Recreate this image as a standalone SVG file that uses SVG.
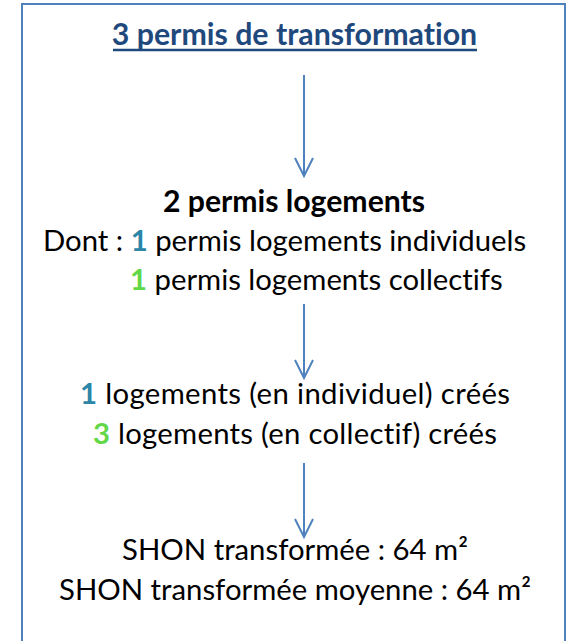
<svg xmlns="http://www.w3.org/2000/svg" width="569" height="641" viewBox="0 0 569 641">
<style>
text{font-variant-ligatures:none;font-feature-settings:"liga" 0}
.t{font-family:Lato,"Liberation Sans",sans-serif;font-size:29.3px;fill:#000}
.b{font-weight:bold;font-size:30.2px}
.title{font-family:Lato,"Liberation Sans",sans-serif;font-size:30.3px;font-weight:bold;fill:#1f497d}
.blue{fill:#2b86a8;font-weight:bold}
.green{fill:#62d848;font-weight:bold}
.arrow{stroke:#4f81bd;stroke-width:2;fill:none}
</style>
<rect x="22" y="4" width="543" height="660" fill="#fff" stroke="#4f81bd" stroke-width="2"/>
<g id="n-title">
<text class="title" x="294.5" y="45" text-anchor="middle">3 permis de transformation</text>
<line x1="113" y1="50" x2="477" y2="50" stroke="#1f497d" stroke-width="2.5"/>
</g>
<g id="n-permis">
<text class="t b" x="294" y="212" text-anchor="middle">2 permis logements</text>
<text class="t" x="43" y="251">Dont : <tspan class="blue">1</tspan> permis logements individuels</text>
<text class="t" x="130" y="290"><tspan class="green">1</tspan> permis logements collectifs</text>
</g>
<g id="n-logements">
<text class="t" x="80" y="404" textLength="430" lengthAdjust="spacing"><tspan class="blue">1</tspan> logements (en individuel) créés</text>
<text class="t" x="93" y="444" textLength="404" lengthAdjust="spacing"><tspan class="green">3</tspan> logements (en collectif) créés</text>
</g>
<g id="n-shon">
<text class="t" x="295" y="560" text-anchor="middle">SHON transformée : 64 m²</text>
<text class="t" x="295" y="600" text-anchor="middle">SHON transformée moyenne : 64 m²</text>
</g>
<g id="connectors">
<line class="arrow" x1="304" y1="75" x2="304" y2="176"/>
<polyline class="arrow" points="295,158 304,176 313,158"/>
<line class="arrow" x1="304" y1="304" x2="304" y2="378"/>
<polyline class="arrow" points="295,360 304,378 313,360"/>
<line class="arrow" x1="304" y1="463" x2="304" y2="537"/>
<polyline class="arrow" points="295,519 304,537 313,519"/>
</g>
</svg>
